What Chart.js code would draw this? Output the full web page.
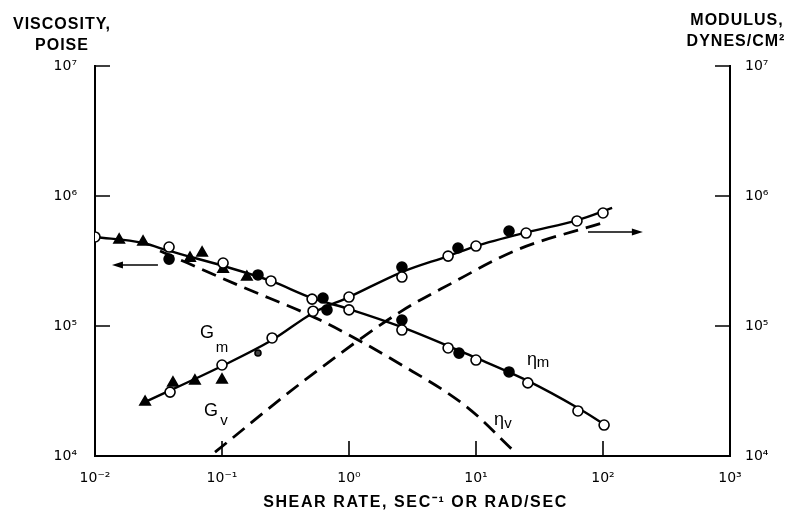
<!DOCTYPE html>
<html>
<head>
<meta charset="utf-8">
<script src="https://cdn.jsdelivr.net/npm/chart.js@4.4.1/dist/chart.umd.min.js"></script>
<style>
  html, body { margin: 0; padding: 0; background: #fff; }
</style>
</head>
<body>
<canvas id="chart" width="790" height="511"></canvas>
<script>
// axes
const rateTicks = [0.01, 0.1, 1, 10, 100, 1000];
const rateTickLabels = ['10\u207B\u00B2', '10\u207B\u00B9', '10\u2070', '10\u00B9', '10\u00B2', '10\u00B3'];
const decadeTicks = [1e4, 1e5, 1e6, 1e7];
const decadeTickLabels = ['10\u2074', '10\u2075', '10\u2076', '10\u2077'];
const rateInnerTicks = [0.1, 1, 10, 100];
const decadeInnerTicks = [1e5, 1e6, 1e7];

// eta_m, solid curve (viscosity, poise)
const etaMRate = [0.01, 0.0239, 0.0383, 0.102, 0.243, 0.512, 1, 2.61, 10, 25.6, 63.5, 102];
const etaMVisc = [484000, 435000, 378000, 290000, 222000, 164000, 135000, 98000, 56800, 37800, 23400, 17600];
// eta_v, dashed curve
const etaVRate = [0.0325, 0.139, 0.592, 2.52, 8.49, 20.3];
const etaVVisc = [378000, 203000, 111000, 51000, 23800, 10700];
// G_m, solid curve (modulus, dynes/cm2)
const gmRate = [0.0248, 0.1, 0.248, 0.521, 1, 2.61, 6.03, 10, 25.6, 63.5, 118];
const gmMod = [26000, 49200, 78000, 126000, 167000, 260000, 345000, 412000, 528000, 653000, 809000];
// G_v, dashed curve
const gvRate = [0.0881, 0.451, 2.52, 6.24, 21.0, 98.2];
const gvMod = [10700, 38500, 128000, 210000, 385000, 619000];

// measured points, viscosity
const etaOpenRate = [0.01, 0.0383, 0.102, 0.243, 0.512, 1, 2.61, 6.03, 10, 25.6, 63.5, 102];
const etaOpenVisc = [484000, 405000, 305000, 222000, 161000, 133000, 93100, 67800, 54700, 36500, 22200, 17300];
const etaFilledRate = [0.0383, 0.192, 0.624, 2.61, 7.35, 18.2];
const etaFilledVisc = [327000, 247000, 164000, 111000, 61900, 44300];
const etaTriRate = [0.0155, 0.0239, 0.056, 0.0697, 0.102, 0.157];
const etaTriVisc = [459000, 443000, 333000, 365000, 274000, 238000];

// measured points, modulus
const gmOpenRate = [0.039, 0.1, 0.248, 0.521, 1, 2.61, 6.03, 10, 24.8, 62.4, 100];
const gmOpenMod = [31000, 50100, 80900, 130000, 167000, 238000, 345000, 412000, 519000, 643000, 740000];
const gmFilledRate = [0.671, 2.61, 7.21, 18.2];
const gmFilledMod = [133000, 284000, 398000, 538000];
const gmTriRate = [0.0248, 0.0411, 0.0612, 0.1];
const gmTriMod = [26000, 36500, 37800, 38500];
const gmDotRate = [0.192];
const gmDotMod = [62000];

// curve labels: [main, subscript, rate, value, axis, dx, dy]
const curveLabels = [
    ['G', 'm', 0.0762, 88300, 'y2', 15, 15],
    ['G', 'v', 0.0818, 22200, 'y2', 13, 10],
    ['\u03B7', 'm', 27.6, 54700, 'y', 11, 3],
    ['\u03B7', 'v', 15.2, 18900, 'y', 9, 4]
];
// arrows pointing at the axis each curve pair belongs to: [fromRate, toRate, value, axis]
const axisArrows = [
    [0.0313, 0.0136, 294000, 'y'],
    [76.2, 206, 528000, 'y2']
];

function pts(xs, ys) {
    return xs.map((x, i) => ({x: x, y: ys[i]}));
}

function curve(data, axis, dashed) {
    return {
        data: data,
        yAxisID: axis,
        showLine: true,
        borderColor: '#000',
        borderWidth: dashed ? 2.8 : 2.4,
        borderDash: dashed ? [15, 8] : [],
        pointRadius: 0,
        fill: false,
        cubicInterpolationMode: 'monotone',
        order: 2
    };
}

function marks(data, axis, style, fillColor, radius) {
    return {
        data: data,
        yAxisID: axis,
        showLine: false,
        pointStyle: style,
        pointRadius: radius,
        pointBackgroundColor: fillColor,
        pointBorderColor: '#000',
        pointBorderWidth: 1.6,
        order: 0
    };
}

const fontFamily = '"Liberation Sans", Arial, Helvetica, sans-serif';
const tickFamily = '"DejaVu Sans", "Liberation Sans", sans-serif';

const decorPlugin = {
    id: 'decor',
    afterDraw(chart) {
        const ctx = chart.ctx;
        const a = chart.chartArea;
        const x = chart.scales.x;
        ctx.save();
        ctx.strokeStyle = '#000';
        ctx.fillStyle = '#000';
        ctx.lineWidth = 1.6;

        // inward tick marks
        ctx.beginPath();
        rateInnerTicks.forEach(v => {
            const px = x.getPixelForValue(v);
            ctx.moveTo(px, a.bottom);
            ctx.lineTo(px, a.bottom - 15);
        });
        decadeInnerTicks.forEach(v => {
            const pl = chart.scales.y.getPixelForValue(v);
            const pr = chart.scales.y2.getPixelForValue(v);
            ctx.moveTo(a.left, pl);
            ctx.lineTo(a.left + 15, pl);
            ctx.moveTo(a.right, pr);
            ctx.lineTo(a.right - 15, pr);
        });
        ctx.stroke();

        // arrows
        axisArrows.forEach(ar => {
            const x1 = x.getPixelForValue(ar[0]);
            const x2 = x.getPixelForValue(ar[1]);
            const py = chart.scales[ar[3]].getPixelForValue(ar[2]);
            const dir = x2 > x1 ? 1 : -1;
            ctx.lineWidth = 1.5;
            ctx.beginPath();
            ctx.moveTo(x1, py);
            ctx.lineTo(x2 - dir * 8, py);
            ctx.stroke();
            ctx.beginPath();
            ctx.moveTo(x2, py);
            ctx.lineTo(x2 - dir * 11, py - 3.5);
            ctx.lineTo(x2 - dir * 11, py + 3.5);
            ctx.closePath();
            ctx.fill();
        });

        // curve labels
        ctx.textAlign = 'center';
        ctx.textBaseline = 'middle';
        curveLabels.forEach(l => {
            const px = x.getPixelForValue(l[2]);
            const py = chart.scales[l[4]].getPixelForValue(l[3]);
            ctx.font = '18px ' + fontFamily;
            ctx.fillText(l[0], px, py);
            ctx.font = '15px ' + fontFamily;
            ctx.fillText(l[1], px + l[5], py + l[6]);
        });

        // axis titles
        ctx.letterSpacing = '1px';
        ctx.font = 'bold 16px ' + fontFamily;
        ctx.fillText('VISCOSITY,', 62, 25);
        ctx.fillText('POISE', 62, 46);
        ctx.fillText('MODULUS,', 737, 21);
        ctx.fillText('DYNES/CM\u00B2', 736, 42);
        ctx.letterSpacing = '1.6px';
        ctx.fillText('SHEAR RATE, SEC\u207B\u00B9 OR RAD/SEC', (a.left + a.right) / 2 + 3, 503);
        ctx.restore();
    }
};

const tickFont = {family: tickFamily, size: 14};

new Chart(document.getElementById('chart'), {
    type: 'scatter',
    data: {
        datasets: [
            curve(pts(etaMRate, etaMVisc), 'y', false),
            curve(pts(etaVRate, etaVVisc), 'y', true),
            curve(pts(gmRate, gmMod), 'y2', false),
            curve(pts(gvRate, gvMod), 'y2', true),
            marks(pts(etaOpenRate, etaOpenVisc), 'y', 'circle', '#fff', 5),
            marks(pts(etaFilledRate, etaFilledVisc), 'y', 'circle', '#000', 5),
            marks(pts(etaTriRate, etaTriVisc), 'y', 'triangle', '#000', 6),
            marks(pts(gmOpenRate, gmOpenMod), 'y2', 'circle', '#fff', 5),
            marks(pts(gmFilledRate, gmFilledMod), 'y2', 'circle', '#000', 5),
            marks(pts(gmTriRate, gmTriMod), 'y2', 'triangle', '#000', 6),
            marks(pts(gmDotRate, gmDotMod), 'y2', 'circle', '#444', 3)
        ]
    },
    options: {
        responsive: false,
        animation: false,
        layout: {padding: {top: 66, left: 0, right: 0, bottom: 0}},
        plugins: {
            legend: {display: false},
            tooltip: {enabled: false}
        },
        scales: {
            x: {
                type: 'logarithmic',
                position: 'bottom',
                min: 0.01,
                max: 1000,
                grid: {display: false, drawTicks: false},
                border: {display: true, color: '#000', width: 2},
                afterBuildTicks: s => { s.ticks = rateTicks.map(v => ({value: v})); },
                afterFit: s => { s.height = 55; },
                ticks: {
                    callback: (v, i) => rateTickLabels[i],
                    color: '#000',
                    font: tickFont,
                    padding: 14,
                    autoSkip: false,
                    maxRotation: 0
                }
            },
            y: {
                type: 'logarithmic',
                position: 'left',
                min: 1e4,
                max: 1e7,
                grid: {display: false, drawTicks: false},
                border: {display: true, color: '#000', width: 2},
                afterBuildTicks: s => { s.ticks = decadeTicks.map(v => ({value: v})); },
                afterFit: s => { s.width = 95; },
                ticks: {
                    callback: (v, i) => decadeTickLabels[i],
                    color: '#000',
                    font: tickFont,
                    padding: 18
                }
            },
            y2: {
                type: 'logarithmic',
                position: 'right',
                min: 1e4,
                max: 1e7,
                grid: {display: false, drawTicks: false},
                border: {display: true, color: '#000', width: 2},
                afterBuildTicks: s => { s.ticks = decadeTicks.map(v => ({value: v})); },
                afterFit: s => { s.width = 60; },
                ticks: {
                    callback: (v, i) => decadeTickLabels[i],
                    color: '#000',
                    font: tickFont,
                    padding: 15
                }
            }
        }
    },
    plugins: [decorPlugin]
});
</script>
</body>
</html>
